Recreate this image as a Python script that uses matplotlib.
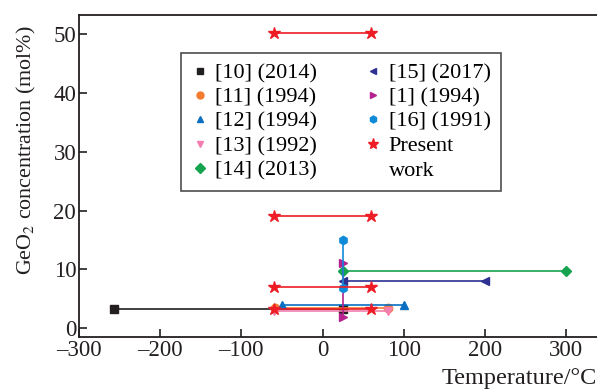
import matplotlib.pyplot as plt

plt.rcParams["font.family"] = ["Liberation Serif", "DejaVu Serif"]
plt.rcParams["mathtext.fontset"] = "stix"

# each series: temperature range and GeO2 concentration (mol%)
labels = ["[10] (2014)", "[11] (1994)", "[12] (1994)", "[13] (1992)", "[14] (2013)",
          "[15] (2017)", "[1] (1994)", "[16] (1991)", "Present", "work"]
colors = ["#231f20", "#f47b30", "#0a6fc0", "#f47fae", "#16a34f",
          "#2e3192", "#b5218e", "#0f8ad8", "#ee1c25"]
markers = ["s", "o", "^", "v", "D", "<", ">", "h", "*"]

ref10_t = [-257, 25]
ref10_c = [3.2, 3.2]
ref11_t = [-58, 80]
ref11_c = [3.5, 3.5]
ref12_t = [-50, 100]
ref12_c = [4.0, 4.0]
ref13_t = [-60, 80]
ref13_c = [3.0, 3.0]
ref14_t = [25, 300]
ref14_c = [9.8, 9.8]
ref15_t = [25, 200]
ref15_c = [8.0, 8.0]
ref1_t = [25, 25]
ref1_c = [2.0, 11.1]
ref16_t = [25, 25]
ref16_c = [6.9, 15.0]
present_t = [-60, 60]
present_c = [[50.2, 50.2], [19.1, 19.1], [7.0, 7.0], [3.3, 3.3]]

series = [
    (ref10_t, ref10_c), (ref11_t, ref11_c), (ref12_t, ref12_c), (ref13_t, ref13_c),
    (ref14_t, ref14_c), (ref15_t, ref15_c), (ref1_t, ref1_c), (ref16_t, ref16_c),
]
sizes = [6, 6, 6, 6, 5, 6, 6, 6, 9]

fig = plt.figure(figsize=(5.97, 3.92), dpi=100)
ax = fig.add_axes([0.1323, 0.140, 0.8677, 0.8225])

for (t, c), col, mk, ms in zip(series, colors, markers, sizes):
    ax.plot(t, c, color=col, marker=mk, ms=ms, lw=1.2)

for c in present_c:
    ax.plot(present_t, c, color=colors[8], marker="*", ms=9, lw=1.2)

leg_handles = [plt.Line2D([], [], color=col, marker=mk, ms=5, ls="none")
               for col, mk in zip(colors[:8], markers[:8])]
leg_handles.append(plt.Line2D([], [], color=colors[8], marker="*", ms=8, ls="none"))
leg_handles.append(plt.Line2D([], [], ls="none"))
leg = ax.legend(leg_handles, labels, ncol=2, loc="upper left",
                bbox_to_anchor=(0.197, 0.882), frameon=True, fancybox=False,
                edgecolor="#231f20", fontsize=16, handlelength=0.8,
                handletextpad=0.3, columnspacing=2.1, labelspacing=0.17,
                borderpad=0.45, borderaxespad=0)
leg.get_frame().set_linewidth(1.2)

ax.set_xlim(-300, 338)
ax.set_ylim(-1.5, 53.3)
ax.set_xticks([-300, -200, -100, 0, 100, 200, 300])
ax.set_xticklabels(["\u2013300", "\u2013200", "\u2013100", "0", "100", "200", "300"])
ax.set_yticks([0, 10, 20, 30, 40, 50])
ax.tick_params(direction="in", length=6, width=1.2, labelsize=16.5, color="#231f20",
               labelcolor="#231f20", pad=2)
ax.spines["right"].set_visible(False)
for s in ["left", "bottom", "top"]:
    ax.spines[s].set_linewidth(1.3)
    ax.spines[s].set_color("#231f20")

ax.set_xlabel("Temperature/\u00b0C", fontsize=17.5, color="#231f20", loc="right",
              labelpad=5)
ax.set_ylabel(r"GeO$_2$ concentration (mol%)", fontsize=15.8, color="#231f20")
ax.yaxis.set_label_coords(-0.08, 0.58)

plt.savefig("out.png", dpi=100)
plt.close()
